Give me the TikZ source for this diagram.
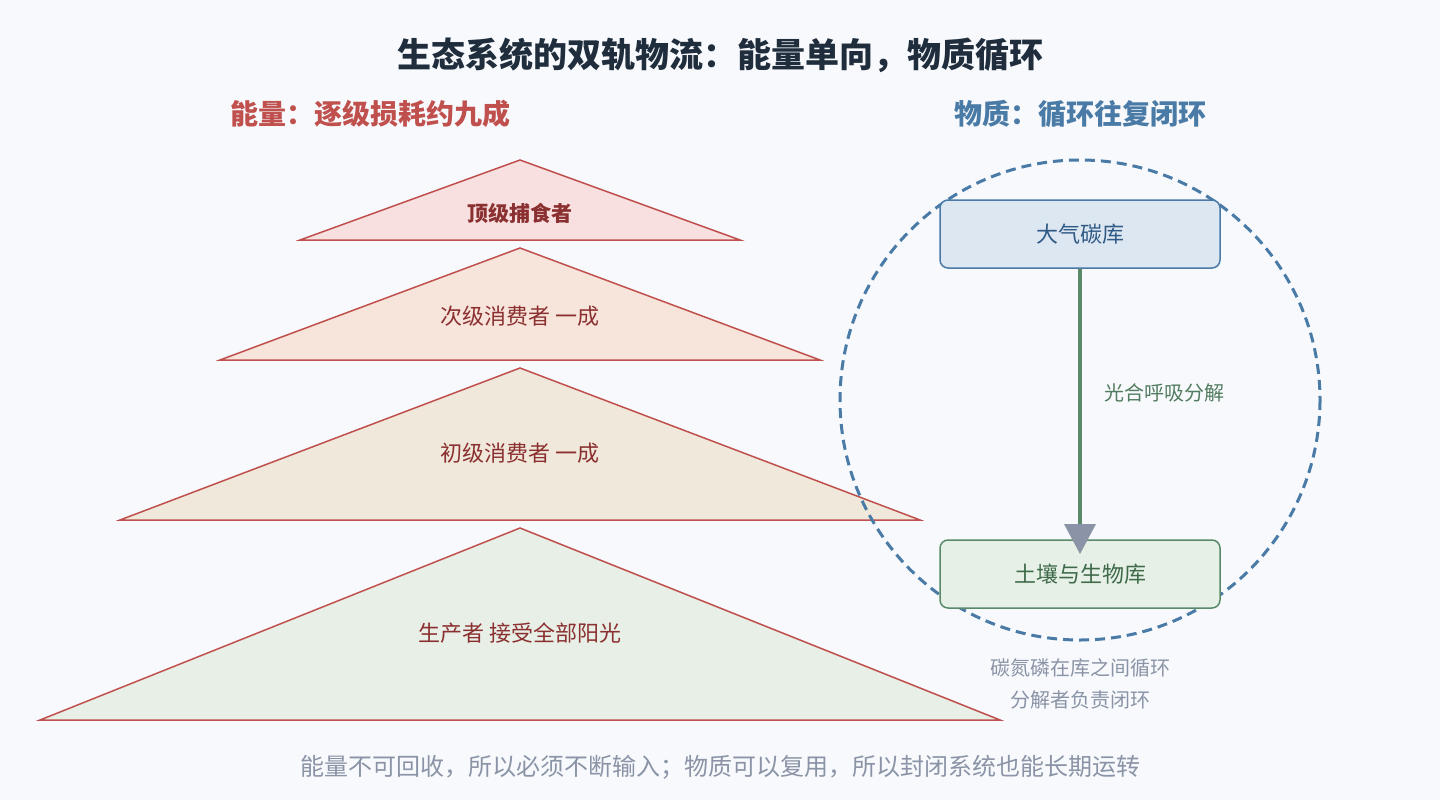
\documentclass[tikz,border=0pt]{standalone}
\usepackage{fontspec}
\setmainfont{Noto Sans CJK SC}
\usetikzlibrary{arrows.meta}
\definecolor{bg}{HTML}{F7F9FC}
\definecolor{tri}{HTML}{C0504D}
\definecolor{trit}{HTML}{8B3030}
\definecolor{blu}{HTML}{4A7BA6}
\definecolor{grn}{HTML}{5A8A6A}
\definecolor{gry}{HTML}{8A94A6}
\definecolor{ttl}{HTML}{1F2D3D}
\definecolor{fa}{HTML}{F8E0E0}
\definecolor{fb}{HTML}{F7E4DA}
\definecolor{fc}{HTML}{F0E8DA}
\definecolor{fd}{HTML}{E8EFE6}
\definecolor{bx1}{HTML}{DDE7F1}
\definecolor{bx2}{HTML}{E6F0E6}
\definecolor{t1}{HTML}{2F5A85}
\definecolor{t2}{HTML}{3E6A4A}
\begin{document}
\begin{tikzpicture}[x=1pt,y=-1pt,
  trin/.style={draw=tri,line width=1.5pt},
  tl/.style={text=trit,font=\fontsize{22}{26}\selectfont},
  box/.style={rounded corners=8pt,line width=1.5pt,minimum width=280pt,minimum height=68pt,font=\fontsize{22}{26}\selectfont},
  note/.style={text=gry,font=\fontsize{20}{24}\selectfont}]
\fill[bg] (0,0) rectangle (1440,800);
\useasboundingbox (0,0) rectangle (1440,800);
\node[font=\fontsize{34}{40}\selectfont\bfseries,text=ttl] (title) at (720,55) {生态系统的双轨物流：能量单向，物质循环};
\node[font=\fontsize{28}{32}\selectfont\bfseries,text=tri] (eh) at (370,114) {能量：逐级损耗约九成};
\node[font=\fontsize{28}{32}\selectfont\bfseries,text=blu] (mh) at (1080,114) {物质：循环往复闭环};
\draw[trin,fill=fa] (520,160) -- (740,240) -- (300,240) -- cycle;
\draw[trin,fill=fb] (520,248) -- (820,360) -- (220,360) -- cycle;
\draw[trin,fill=fc] (520,368) -- (920,520) -- (120,520) -- cycle;
\draw[trin,fill=fd] (520,528) -- (1000,720) -- (40,720) -- cycle;
\node[tl,font=\fontsize{21}{24}\selectfont\bfseries] (p1) at (520,213) {顶级捕食者};
\node[tl] (p2) at (520,316) {次级消费者 一成};
\node[tl] (p3) at (520,453) {初级消费者 一成};
\node[tl] (p4) at (520,633) {生产者 接受全部阳光};
\draw[blu,line width=3pt,dash pattern=on 10pt off 6pt] (1080,400) circle[radius=240];
\node[box,draw=blu,fill=bx1,text=t1] (air) at (1080,234) {大气碳库};
\node[box,draw=grn,fill=bx2,text=t2] (soil) at (1080,574) {土壤与生物库};
\draw[grn,line width=3.5pt] (air.south) -- (1080,525);
\draw[draw=none,fill=gry] (1064,524) -- (1096,524) -- (1080,554) -- cycle;
\node[text=grn!90!black,font=\fontsize{20}{24}\selectfont,anchor=west] (lab) at (1101,393) {光合呼吸分解};
\node[note] (n1) at (1080,668) {碳氮磷在库之间循环};
\node[note] (n2) at (1080,700) {分解者负责闭环};
\node[note,font=\fontsize{24}{28}\selectfont] (foot) at (720,767) {能量不可回收，所以必须不断输入；物质可以复用，所以封闭系统也能长期运转};
\end{tikzpicture}
\end{document}
